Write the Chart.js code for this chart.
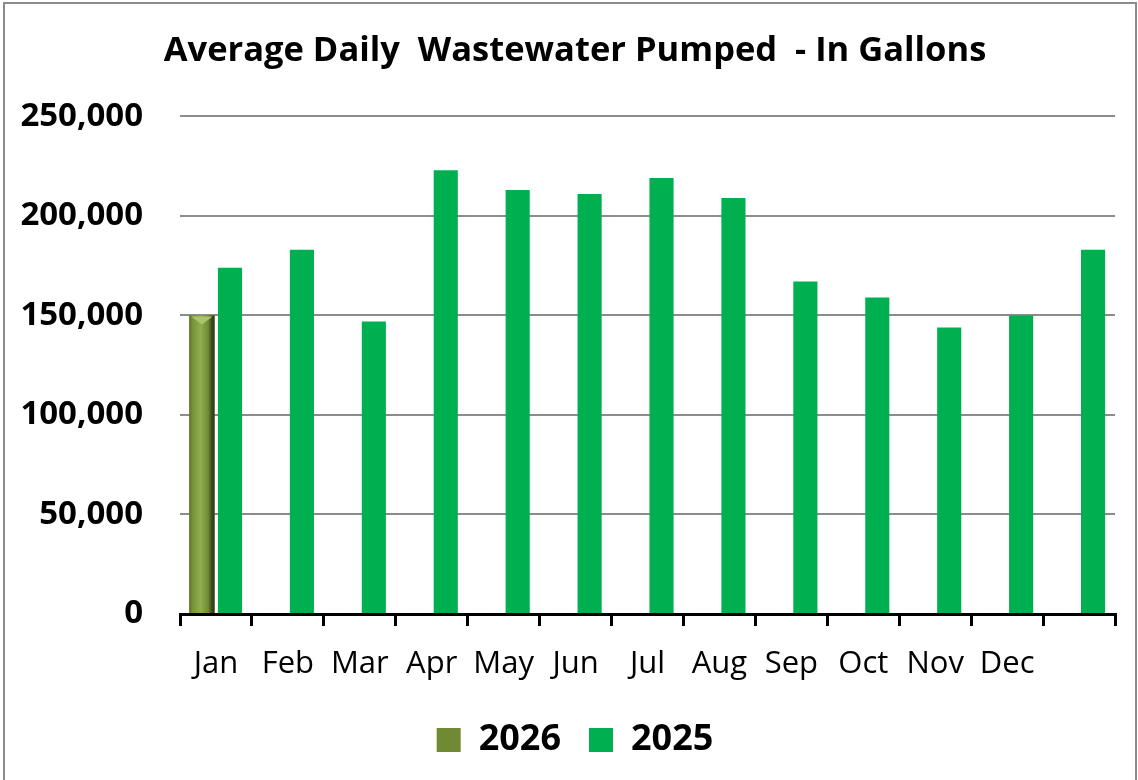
<!DOCTYPE html>
<html>
<head>
<meta charset="utf-8">
<script src="https://cdn.jsdelivr.net/npm/chart.js@4/dist/chart.umd.min.js"></script>
<style>
  html, body { margin: 0; padding: 0; background: #fff; }
  #wrap { position: relative; width: 1138px; height: 780px; }
  #frame { position: absolute; left: 3px; top: 2px; width: 1130px; height: 790px; border: 2px solid #8c8c8c; pointer-events: none; }
</style>
</head>
<body>
<div id="wrap">
  <canvas id="grafico" width="1138" height="780"></canvas>
  <div id="frame"></div>
</div>
<script>
// dados
const meses = ["Jan", "Feb", "Mar", "Apr", "May", "Jun", "Jul", "Aug", "Sep", "Oct", "Nov", "Dec", ""];
const dados2026 = [150000, null, null, null, null, null, null, null, null, null, null, null, null];
const dados2025 = [174000, 183000, 147000, 223000, 213000, 211000, 219000, 209000, 167000, 159000, 144000, 150000, 183000];
const ticksY = [0, 50000, 100000, 150000, 200000, 250000];

const fonte = "'Open Sans', 'Liberation Sans', sans-serif";

// efeito de relevo na barra de 2026
const relevo = {
  id: "relevo",
  afterLayout(chart) {
    // deixa os rotulos do eixo y passarem para dentro do padding esquerdo
    chart.scales.y.left = 0;
  },
  afterDatasetsDraw(chart) {
    const ctx = chart.ctx;
    const meta = chart.getDatasetMeta(0);
    meta.data.forEach((el, i) => {
      if (dados2026[i] == null) return;
      const { x, y, base, width } = el.getProps(["x", "y", "base", "width"], true);
      const l = x - width / 2, r = x + width / 2;
      const g = ctx.createLinearGradient(l, 0, r, 0);
      g.addColorStop(0, "#5a7028");
      g.addColorStop(0.12, "#76923a");
      g.addColorStop(0.45, "#8fae4e");
      g.addColorStop(0.75, "#6f8a33");
      g.addColorStop(0.88, "#3f4f1c");
      g.addColorStop(1, "#2c3812");
      ctx.save();
      ctx.fillStyle = g;
      ctx.fillRect(l, y, width, base - y);
      // topo claro
      ctx.fillStyle = "#a9c46a";
      ctx.beginPath();
      ctx.moveTo(l + 2, y + 1);
      ctx.lineTo(r - 2, y + 1);
      ctx.lineTo(x, y + 9);
      ctx.closePath();
      ctx.fill();
      ctx.restore();
    });
  }
};

new Chart(document.getElementById("grafico"), {
  type: "bar",
  data: {
    labels: meses,
    datasets: [
      {
        label: "2026",
        data: dados2026,
        backgroundColor: "#6f8a33",
        borderWidth: 0,
        categoryPercentage: 0.78,
        barPercentage: 0.9
      },
      {
        label: "2025",
        data: dados2025,
        backgroundColor: "#00b050",
        borderWidth: 0,
        categoryPercentage: 0.78,
        barPercentage: 0.86
      }
    ]
  },
  options: {
    responsive: false,
    animation: false,
    devicePixelRatio: 1,
    layout: { padding: { left: 35, right: 23, top: 0, bottom: 12 } },
    plugins: {
      title: {
        display: true,
        text: "Average Daily  Wastewater Pumped  - In Gallons",
        color: "#000",
        font: { family: fonte, size: 34.5, weight: "bold" },
        padding: { top: 30, bottom: 45 }
      },
      legend: {
        position: "bottom",
        labels: {
          color: "#000",
          font: { family: fonte, size: 36, weight: "bold" },
          boxWidth: 24,
          boxHeight: 24,
          padding: 28
        }
      },
      tooltip: { enabled: false }
    },
    scales: {
      x: {
        afterFit(scale) {
          scale.height = 80;
        },
        grid: {
          offset: true,
          drawOnChartArea: false,
          drawTicks: true,
          tickLength: 12,
          color: "#000",
          lineWidth: 3
        },
        border: { display: true, color: "#000", width: 3 },
        ticks: {
          color: "#000",
          font: { family: fonte, size: 31 },
          padding: 20,
          maxRotation: 0,
          autoSkip: false
        }
      },
      y: {
        min: 0,
        max: 250000,
        afterBuildTicks(scale) {
          scale.ticks = ticksY.map(v => ({ value: v }));
        },
        afterFit(scale) {
          scale.width = 145;
        },
        grid: { color: "#8c8c8c", lineWidth: 2, drawTicks: false },
        border: { display: false },
        ticks: {
          color: "#000",
          font: { family: fonte, size: 33, weight: "bold" },
          padding: 37,
          callback: v => v.toLocaleString("en-US")
        }
      }
    }
  },
  plugins: [relevo]
});
</script>
</body>
</html>
